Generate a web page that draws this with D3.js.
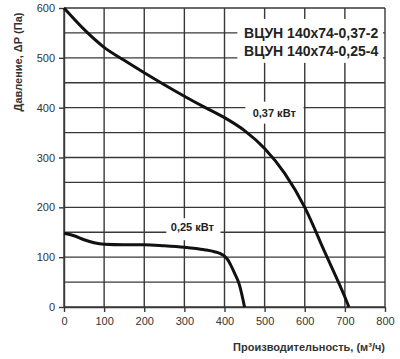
<!DOCTYPE html>
<html>
<head>
<meta charset="utf-8">
<script src="https://cdn.jsdelivr.net/npm/d3@7"></script>
<style>
  body { margin: 0; background: #fff; }
  svg { display: block; font-family: "Liberation Sans", Arial, sans-serif; }
</style>
</head>
<body>
<svg width="400" height="359" viewBox="0 0 400 359"></svg>
<script>
// Flow (m3/h) vs pressure (Pa)
const flowTicks = [0, 100, 200, 300, 400, 500, 600, 700, 800];
const pressureTicks = [0, 100, 200, 300, 400, 500, 600];
const pressureGrid = [0, 50, 100, 150, 200, 250, 300, 350, 400, 450, 500, 550, 600];

const fan037Flow = [0, 50, 100, 150, 200, 250, 300, 350, 400, 450, 500, 550, 600, 650, 700, 710];
const fan037Pressure = [600, 557, 521, 495, 470, 446, 423, 401, 380, 354, 318, 268, 200, 110, 20, 0];

const fan025Flow = [0, 25, 50, 75, 100, 150, 200, 250, 300, 350, 375, 390, 400, 408, 415, 425, 437, 450];
const fan025Pressure = [148, 143, 135, 129, 126, 125, 125, 123, 120, 115, 111, 107, 102, 95, 85, 68, 45, 0];

const modelLabels = ["ВЦУН 140x74-0,37-2", "ВЦУН 140x74-0,25-4"];
const powerLabels = ["0,37 кВт", "0,25 кВт"];
const xTitle = "Производительность, (м³/ч)";
const yTitle = "Давление, ΔР (Па)";

const svg = d3.select("svg");
const x = d3.scaleLinear().domain([0, 800]).range([64, 385]);
const y = d3.scaleLinear().domain([0, 600]).range([307, 8]);

const gridColor = "#383838";
const grid = svg.append("g").attr("stroke", gridColor).attr("stroke-width", 1.4);

// horizontal grid every 50 Pa
grid.selectAll("line.h")
    .data(pressureGrid)
    .enter().append("line")
    .attr("x1", x(0)).attr("x2", x(800))
    .attr("y1", d => y(d)).attr("y2", d => y(d));

// vertical grid every 100 m3/h
grid.selectAll("line.v")
    .data(flowTicks)
    .enter().append("line")
    .attr("x1", d => x(d)).attr("x2", d => x(d))
    .attr("y1", y(0)).attr("y2", y(600));

// axes with short outer ticks
const xAxis = svg.append("g")
    .attr("transform", `translate(0,${y(0)})`)
    .call(d3.axisBottom(x).tickValues(flowTicks).tickSize(5).tickPadding(5).tickSizeOuter(0));
const yAxis = svg.append("g")
    .attr("transform", `translate(${x(0)},0)`)
    .call(d3.axisLeft(y).tickValues(pressureTicks).tickSize(5).tickPadding(4).tickSizeOuter(0));

[xAxis, yAxis].forEach(a => {
    a.select(".domain").attr("stroke", gridColor).attr("stroke-width", 1.4);
    a.selectAll(".tick line").attr("stroke", gridColor).attr("stroke-width", 1.4);
    a.selectAll(".tick text")
        .attr("fill", "#333")
        .style("font-size", "11px")
        .style("font-family", "'Liberation Sans', Arial, sans-serif");
});

// white boxes that break the grid behind labels
const boxes = [
    { q0: 432, q1: 795, p0: 578, p1: 490 },
    { q0: 452, q1: 597, p0: 412, p1: 368 },
    { q0: 255, q1: 390, p0: 178, p1: 134 }
];
svg.append("g").selectAll("rect")
    .data(boxes)
    .enter().append("rect")
    .attr("x", d => x(d.q0))
    .attr("y", d => y(d.p0))
    .attr("width", d => x(d.q1) - x(d.q0))
    .attr("height", d => y(d.p1) - y(d.p0))
    .attr("fill", "#fff");

// fan curves
const line = d3.line()
    .x(d => x(d[0]))
    .y(d => y(d[1]))
    .curve(d3.curveMonotoneX);

const curves = [
    d3.zip(fan037Flow, fan037Pressure),
    d3.zip(fan025Flow, fan025Pressure)
];
svg.append("g").selectAll("path")
    .data(curves)
    .enter().append("path")
    .attr("d", line)
    .attr("fill", "none")
    .attr("stroke", "#111")
    .attr("stroke-width", 3)
    .attr("stroke-linecap", "butt");

// model names
svg.append("g").selectAll("text")
    .data(modelLabels)
    .enter().append("text")
    .attr("x", x(783))
    .attr("y", (d, i) => y(540) + i * 18)
    .attr("text-anchor", "end")
    .attr("fill", "#222")
    .style("font-size", "14px")
    .style("font-weight", "bold")
    .text(d => d);

// power labels
const powerPos = [[524, 382], [320, 152]];
svg.append("g").selectAll("text")
    .data(powerLabels)
    .enter().append("text")
    .attr("x", (d, i) => x(powerPos[i][0]))
    .attr("y", (d, i) => y(powerPos[i][1]))
    .attr("text-anchor", "middle")
    .attr("fill", "#222")
    .style("font-size", "11px")
    .style("font-weight", "bold")
    .text(d => d);

// axis titles
svg.append("text")
    .attr("x", 385)
    .attr("y", 351)
    .attr("text-anchor", "end")
    .attr("fill", "#333")
    .style("font-size", "11px")
    .style("font-weight", "bold")
    .text(xTitle);

svg.append("text")
    .attr("transform", "translate(22,62) rotate(-90)")
    .attr("text-anchor", "middle")
    .attr("fill", "#333")
    .style("font-size", "11px")
    .style("font-weight", "bold")
    .text(yTitle);
</script>
</body>
</html>
